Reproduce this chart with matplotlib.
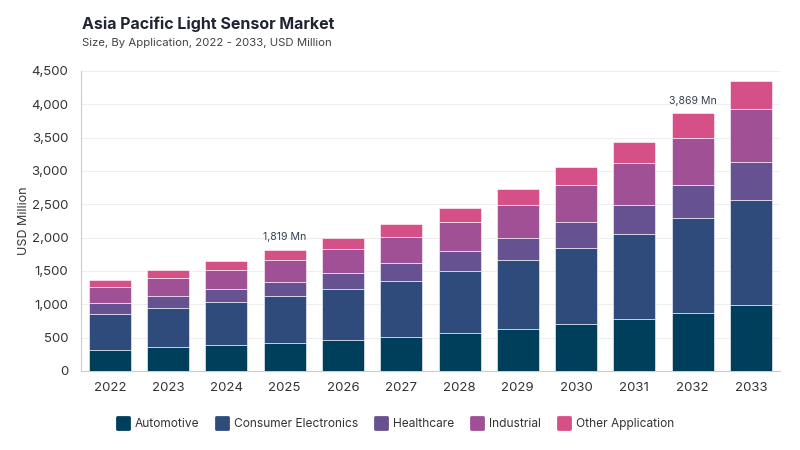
import matplotlib.pyplot as plt
from matplotlib.lines import Line2D
from matplotlib.markers import MarkerStyle
import numpy as np

years = ['2022', '2023', '2024', '2025', '2026', '2027',
         '2028', '2029', '2030', '2031', '2032', '2033']

automotive = [320, 360, 385, 415, 460, 505, 565, 625, 700, 780, 875, 985]
consumer_electronics = [535, 580, 645, 705, 770, 845, 935, 1035, 1140, 1270, 1420, 1585]
healthcare = [160, 180, 200, 215, 235, 270, 295, 335, 395, 440, 500, 565]
industrial = [240, 270, 280, 325, 360, 390, 440, 495, 550, 625, 705, 800]
other = [115, 125, 140, 159, 170, 195, 215, 245, 275, 320, 369, 415]

series = ['Automotive', 'Consumer Electronics', 'Healthcare', 'Industrial', 'Other Application']
colors = ['#003f5c', '#2f4b7c', '#665191', '#a05195', '#d45087']

# labelled totals
labels = {3: '1,819 Mn', 10: '3,869 Mn'}

plt.rcParams['font.family'] = ['Inter', 'DejaVu Sans']

fig = plt.figure(figsize=(8, 4.5), dpi=100)
ax = fig.add_axes([0.101, 0.1756, 0.874, 0.6667])

x = np.arange(len(years))
bottom = np.zeros(len(years))
for name, vals, c in zip(series, [automotive, consumer_electronics, healthcare, industrial, other], colors):
    ax.bar(x, vals, 0.72, bottom=bottom, color=c, edgecolor='#ffffff', linewidth=0.4, zorder=3)
    bottom += np.array(vals)

for i, txt in labels.items():
    ax.text(x[i], bottom[i] + 110, txt, ha='center', va='bottom', fontsize=7.6, color='#374151')

ax.set_xlim(-0.5, len(years) - 0.5)
ax.set_ylim(0, 4500)
ax.set_yticks(range(0, 4501, 500))
ax.set_yticklabels([f'{v:,}' for v in range(0, 4501, 500)])
ax.set_xticks(x)
ax.set_xticklabels(years)
ax.tick_params(axis='both', length=0, labelsize=9.5, colors='#333333')
ax.tick_params(axis='y', pad=9)
ax.tick_params(axis='x', pad=8)
ax.grid(axis='y', color='#eeeeee', linewidth=0.8, zorder=0)
for s in ['top', 'right']:
    ax.spines[s].set_visible(False)
ax.spines['left'].set_color('#cccccc')
ax.spines['bottom'].set_color('#cccccc')
ax.set_ylabel('USD Million', fontsize=9, color='#333333', labelpad=1)

fig.text(0.102, 0.946, 'Asia Pacific Light Sensor Market', fontsize=11.5, fontweight='bold',
         color='#1f2533', va='center')
fig.text(0.102, 0.905, 'Size, By Application, 2022 - 2033, USD Million', fontsize=8.2,
         color='#444444', va='center')

handles = [Line2D([], [], linestyle='none',
                  marker=MarkerStyle('s', joinstyle='round'), markersize=9,
                  markerfacecolor=c, markeredgecolor=c, markeredgewidth=2)
           for c in colors]
fig.legend(handles, series, loc='center', bbox_to_anchor=(0.493, 0.058), ncol=5,
           frameon=False, fontsize=8.6, handletextpad=0.3, handlelength=1.4,
           columnspacing=1.2, labelcolor='#333333')

fig.savefig('out.png', dpi=100)
